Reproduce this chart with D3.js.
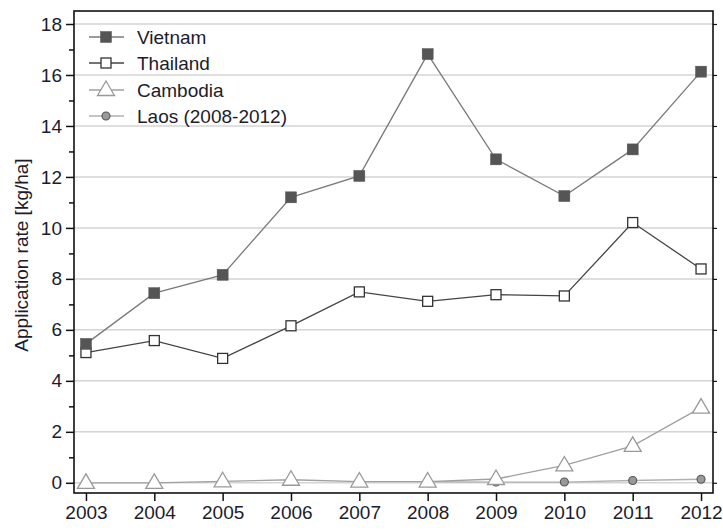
<!DOCTYPE html>
<html>
<head>
<meta charset="utf-8">
<script src="https://cdn.jsdelivr.net/npm/d3@7"></script>
<style>
  html, body { margin: 0; padding: 0; background: #fff; }
  svg { display: block; font-family: "Liberation Sans", Arial, sans-serif; }
</style>
</head>
<body>
<svg id="chart" width="723" height="530"></svg>
<script>
// Application rates [kg/ha] per year
const years = [2003, 2004, 2005, 2006, 2007, 2008, 2009, 2010, 2011, 2012];
const vietnam  = [5.45, 7.44, 8.16, 11.2, 12.04, 16.82, 12.69, 11.25, 13.08, 16.13];
const thailand = [5.11, 5.58, 4.88, 6.16, 7.49, 7.12, 7.38, 7.33, 10.21, 8.39];
const cambodia = [0.0, 0.0, 0.06, 0.12, 0.05, 0.05, 0.15, 0.68, 1.45, 2.95];
const laosYears = [2008, 2009, 2010, 2011, 2012];
const laos = [0.05, 0.03, 0.03, 0.09, 0.14];
const yTicks = [0, 2, 4, 6, 8, 10, 12, 14, 16, 18];
const yMinorTicks = [1, 3, 5, 7, 9, 11, 13, 15, 17];
const seriesNames = ["Vietnam", "Thailand", "Cambodia", "Laos (2008-2012)"];

const svg = d3.select("#chart");
const frame = { left: 74, right: 713, top: 11, bottom: 493 };
const fontSize = 19;

const x = d3.scaleLinear().domain([2002.825, 2012.175]).range([frame.left, frame.right]);
const y = d3.scaleLinear().domain([-0.4, 18.51]).range([frame.bottom, frame.top]);

const textColor = "#1c1c2c";

// horizontal gridlines at the major ticks
svg.append("g")
  .selectAll("line")
  .data(yTicks)
  .join("line")
  .attr("x1", frame.left).attr("x2", frame.right)
  .attr("y1", d => y(d)).attr("y2", d => y(d))
  .attr("stroke", "#d4d4d4").attr("stroke-width", 1.5);

// left axis with major + minor ticks
const yAxis = svg.append("g").attr("transform", `translate(${frame.left},0)`)
  .call(d3.axisLeft(y).tickValues(yTicks).tickSize(8).tickPadding(4).tickFormat(d3.format("d")));
yAxis.select(".domain").remove();
yAxis.selectAll(".tick line").attr("stroke", "#111").attr("stroke-width", 1.5);
yAxis.selectAll(".tick text").attr("font-size", fontSize).attr("fill", textColor)
  .attr("font-family", "Liberation Sans, Arial, sans-serif");

const yMinor = svg.append("g").attr("transform", `translate(${frame.left},0)`)
  .call(d3.axisLeft(y).tickValues(yMinorTicks).tickSize(5).tickFormat(""));
yMinor.select(".domain").remove();
yMinor.selectAll(".tick line").attr("stroke", "#111").attr("stroke-width", 1.5);

// right side tick stubs
const yRight = svg.append("g").attr("transform", `translate(${frame.right},0)`)
  .call(d3.axisRight(y).tickValues(yTicks).tickSize(4).tickFormat(""));
yRight.select(".domain").remove();
yRight.selectAll(".tick line").attr("stroke", "#111").attr("stroke-width", 1.2);

// bottom axis
const xAxis = svg.append("g").attr("transform", `translate(0,${frame.bottom})`)
  .call(d3.axisBottom(x).tickValues(years).tickSize(8).tickPadding(5).tickFormat(d3.format("d")));
xAxis.select(".domain").remove();
xAxis.selectAll(".tick line").attr("stroke", "#111").attr("stroke-width", 1.5);
xAxis.selectAll(".tick text").attr("font-size", fontSize).attr("fill", textColor)
  .attr("font-family", "Liberation Sans, Arial, sans-serif");

// plot frame
svg.append("rect")
  .attr("x", frame.left).attr("y", frame.top)
  .attr("width", frame.right - frame.left).attr("height", frame.bottom - frame.top)
  .attr("fill", "none").attr("stroke", "#111").attr("stroke-width", 1.6);

// y axis title
svg.append("text")
  .attr("transform", `translate(28,${(frame.top + frame.bottom) / 2 + 3}) rotate(-90)`)
  .attr("text-anchor", "middle")
  .attr("font-size", fontSize).attr("fill", textColor)
  .text("Application rate [kg/ha]");

// marker drawing helpers
const markers = {
  filledSquare: (g) => g.append("rect").attr("x", -5.5).attr("y", -5.5).attr("width", 11).attr("height", 11)
    .attr("fill", "#555").attr("stroke", "#555").attr("stroke-width", 0.5),
  openSquare: (g) => g.append("rect").attr("x", -5).attr("y", -5).attr("width", 10).attr("height", 10)
    .attr("fill", "#fff").attr("stroke", "#333").attr("stroke-width", 1.3),
  triangle: (g) => g.append("path").attr("d", "M0,-9 L8.5,5.5 L-8.5,5.5 Z")
    .attr("fill", "#fff").attr("stroke", "#999").attr("stroke-width", 1.3),
  dot: (g) => g.append("circle").attr("r", 4)
    .attr("fill", "#999").attr("stroke", "#555").attr("stroke-width", 1.1)
};

const series = [
  { name: seriesNames[0], xs: years, ys: vietnam, line: "#7a7a7a", width: 1.3, marker: markers.filledSquare },
  { name: seriesNames[1], xs: years, ys: thailand, line: "#444", width: 1.3, marker: markers.openSquare },
  { name: seriesNames[2], xs: years, ys: cambodia, line: "#a0a0a0", width: 1.3, marker: markers.triangle },
  { name: seriesNames[3], xs: laosYears, ys: laos, line: "#b0b0b0", width: 1.3, marker: markers.dot }
];

const line = d3.line().x(d => x(d[0])).y(d => y(d[1]));

// draw bottom series first so Vietnam sits on top
[...series].reverse().forEach(s => {
  const pts = s.xs.map((yr, i) => [yr, s.ys[i]]);
  svg.append("path").datum(pts)
    .attr("d", line)
    .attr("fill", "none").attr("stroke", s.line).attr("stroke-width", s.width);
  pts.forEach(p => {
    const g = svg.append("g").attr("transform", `translate(${x(p[0])},${y(p[1])})`);
    s.marker(g);
  });
});

// legend
const legend = svg.append("g");
const legendRows = [37, 63, 90, 116];
series.forEach((s, i) => {
  const row = legend.append("g").attr("transform", `translate(0,${legendRows[i]})`);
  row.append("line").attr("x1", 89).attr("x2", 124).attr("y1", 0).attr("y2", 0)
    .attr("stroke", s.line).attr("stroke-width", s.width);
  const m = row.append("g").attr("transform", "translate(106,0)");
  s.marker(m);
  row.append("text").attr("x", 137).attr("y", 7)
    .attr("font-size", fontSize).attr("fill", textColor)
    .text(s.name);
});
</script>
</body>
</html>
